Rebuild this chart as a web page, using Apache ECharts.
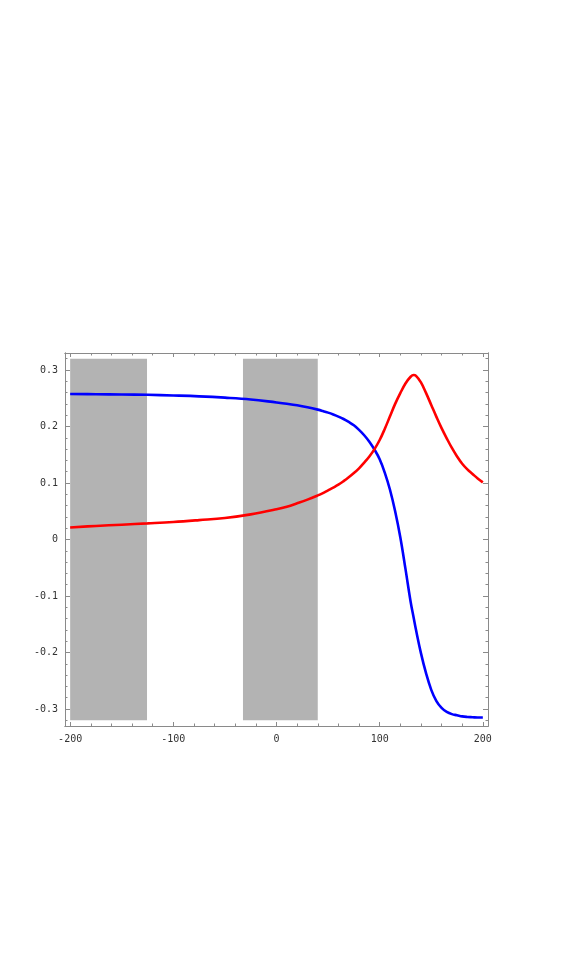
<!DOCTYPE html>
<html>
<head>
<meta charset="utf-8">
<script src="https://cdn.jsdelivr.net/npm/echarts@6/dist/echarts.min.js"></script>
<style>
html,body{margin:0;padding:0;background:#fff;}
#chart{width:562px;height:962px;}
</style>
</head>
<body>
<div id="chart"></div>
<script>
// ---- data ----
var xValues = [-200,-175,-150,-125,-100,-75,-50,-25,0,10,20,30,40,45,50,55,60,65,70,75,80,85,90,95,100,105,110,115,120,125,130,133,135,140,145,150,155,160,165,170,175,180,185,190,195,200];
var blueValues = [0.2575,0.257,0.2565,0.256,0.2548,0.2533,0.251,0.2478,0.2425,0.2402,0.2375,0.234,0.2298,0.2273,0.2245,0.2212,0.2175,0.2132,0.208,0.2020,0.1940,0.1845,0.1730,0.159,0.142,0.118,0.088,0.050,0.004,-0.052,-0.110,-0.139,-0.158,-0.201,-0.237,-0.266,-0.286,-0.298,-0.305,-0.309,-0.311,-0.313,-0.314,-0.3145,-0.315,-0.315];
var redValues = [0.0213,0.024,0.0262,0.0285,0.031,0.0343,0.038,0.0445,0.0535,0.058,0.064,0.0705,0.078,0.0822,0.087,0.0918,0.097,0.1032,0.110,0.1175,0.126,0.136,0.147,0.160,0.176,0.196,0.218,0.240,0.259,0.276,0.288,0.291,0.290,0.278,0.259,0.238,0.217,0.197,0.179,0.162,0.147,0.134,0.124,0.116,0.108,0.101];
var bandStarts = [-200, -32.5];
var bandEnds = [-125.5, 40];
var bandTop = 0.32;
var bandBottom = -0.32;
var xMajorTicks = [-200,-100,0,100,200];
var xMinorTicks = [-180,-160,-140,-120,-80,-60,-40,-20,20,40,60,80,120,140,160,180];
var yMajorTicks = [-0.3,-0.2,-0.1,0,0.1,0.2,0.3];
var yMinorTicks = [-0.32,-0.28,-0.26,-0.24,-0.22,-0.18,-0.16,-0.14,-0.12,-0.08,-0.06,-0.04,-0.02,0.02,0.04,0.06,0.08,0.12,0.14,0.16,0.18,0.22,0.24,0.26,0.28,0.32];
var xMin = -205, xMax = 205, yMin = -0.33, yMax = 0.33;

// ---- build ----
var frameColor = '#8a8a8a';
var labelFont = {fontFamily:'DejaVu Sans Mono', fontSize:10, color:'#333'};
function pairs(xs, ys){ return xs.map(function(x,i){ return [x, ys[i]]; }); }
function xAxisDef(pos, ticks, len, labels){
  return {
    type:'value', position:pos, min:xMin, max:xMax,
    axisLine:{show:true, onZero:false, lineStyle:{color:frameColor, width:1}},
    axisTick:{show:true, inside:true, length:len, customValues:ticks, lineStyle:{color:frameColor, width:1}},
    axisLabel: labels ? Object.assign({show:true, margin:8, customValues:xMajorTicks, formatter:function(v){return String(Math.round(v));}}, labelFont) : {show:false},
    splitLine:{show:false}
  };
}
function yAxisDef(pos, ticks, len, labels){
  return {
    type:'value', position:pos, min:yMin, max:yMax,
    axisLine:{show:true, onZero:false, lineStyle:{color:frameColor, width:1}},
    axisTick:{show:true, inside:true, length:len, customValues:ticks, lineStyle:{color:frameColor, width:1}},
    axisLabel: labels ? Object.assign({show:true, margin:7, customValues:yMajorTicks, formatter:function(v){var r=Math.round(v*10)/10; return r===0?'0':String(r);}}, labelFont) : {show:false},
    splitLine:{show:false}
  };
}
var bandData = bandStarts.map(function(s,i){
  return [{xAxis:s, yAxis:bandTop},{xAxis:bandEnds[i], yAxis:bandBottom}];
});

var option = {
  animation:false,
  backgroundColor:'#ffffff',
  grid:{left:65, right:74, top:353, bottom:236, containLabel:false},
  xAxis:[
    xAxisDef('bottom', xMajorTicks, 4, true),
    xAxisDef('top', xMajorTicks, 4, false),
    xAxisDef('bottom', xMinorTicks, 2.5, false),
    xAxisDef('top', xMinorTicks, 2.5, false)
  ],
  yAxis:[
    yAxisDef('left', yMajorTicks, 5, true),
    yAxisDef('right', yMajorTicks, 5, false),
    yAxisDef('left', yMinorTicks, 2.5, false),
    yAxisDef('right', yMinorTicks, 2.5, false)
  ],
  series:[
    {type:'line', data:[], z:1, silent:true,
     markArea:{silent:true, itemStyle:{color:'#b3b3b3'}, label:{show:false}, data:bandData}},
    {type:'line', name:'blue', data:pairs(xValues, blueValues), smooth:0.4, showSymbol:false, z:3,
     lineStyle:{color:'#0000ff', width:2.6}, itemStyle:{color:'#0000ff'}},
    {type:'line', name:'red', data:pairs(xValues, redValues), smooth:0.4, showSymbol:false, z:3,
     lineStyle:{color:'#ff0000', width:2.6}, itemStyle:{color:'#ff0000'}}
  ]
};
var chart = echarts.init(document.getElementById('chart'));
chart.setOption(option);
</script>
</body>
</html>
